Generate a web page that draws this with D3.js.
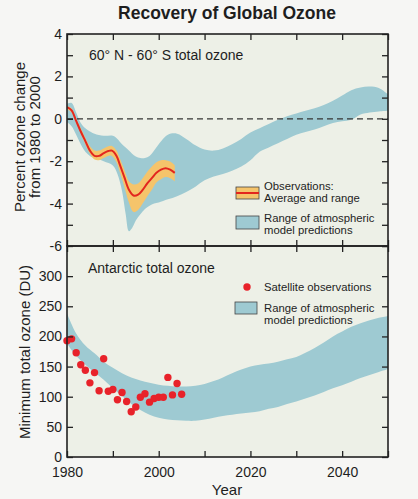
<!DOCTYPE html>
<html>
<head>
<meta charset="utf-8">
<script src="https://cdn.jsdelivr.net/npm/d3@7"></script>
<style>
  html, body { margin: 0; padding: 0; background: #f6f6f4; }
  svg { display: block; font-family: "Liberation Sans", Arial, Helvetica, sans-serif; }
</style>
</head>
<body>
<svg id="chart" width="418" height="499"></svg>
<script>
// ---------- DATA ----------
const title = "Recovery of Global Ozone";

// Top panel: 60N-60S total ozone, percent change from 1980
const topModelYears = [1980, 1981, 1982, 1983, 1984, 1985, 1986, 1988, 1990, 1991, 1992, 1992.8, 1993.5, 1994.2, 1995, 1996, 1997, 1998, 1999, 2000, 2002, 2004, 2006, 2008, 2010, 2012, 2014, 2016, 2018, 2020, 2022, 2024, 2026, 2028, 2030, 2032, 2034, 2036, 2038, 2040, 2042, 2044, 2046, 2048, 2050];
const topModelHigh  = [0.7, 0.75, 0.3, -0.2, -0.45, -0.6, -0.7, -0.8, -0.8, -0.95, -1.2, -1.35, -1.5, -1.65, -1.78, -1.85, -1.85, -1.75, -1.5, -1.2, -0.75, -0.7, -0.95, -1.25, -1.45, -1.5, -1.4, -1.2, -0.95, -0.65, -0.45, -0.25, -0.05, 0.12, 0.25, 0.38, 0.5, 0.65, 0.85, 1.1, 1.35, 1.48, 1.52, 1.45, 1.15];
const topModelLow   = [-0.15, -0.35, -0.75, -1.2, -1.55, -1.75, -1.85, -2.0, -2.2, -2.6, -3.4, -4.5, -5.3, -5.15, -4.8, -4.5, -4.25, -4.1, -4.0, -3.95, -3.8, -3.65, -3.45, -3.2, -2.9, -2.72, -2.6, -2.45, -2.25, -1.95, -1.55, -1.35, -1.15, -0.95, -0.75, -0.62, -0.5, -0.35, -0.2, -0.12, -0.05, 0.2, 0.3, 0.35, 0.38];

const obsYears = [1980, 1981, 1982, 1983, 1984, 1985, 1986, 1987, 1988, 1989, 1989.8, 1990.8, 1991.5, 1992.5, 1993.5, 1994.5, 1995.5, 1996.5, 1997.5, 1998.5, 1999.5, 2000.5, 2001.5, 2002.5, 2003.5];
const obsMean  = [0.55, 0.4, -0.1, -0.6, -1.05, -1.5, -1.75, -1.75, -1.62, -1.52, -1.5, -1.75, -2.15, -2.75, -3.35, -3.62, -3.58, -3.35, -3.05, -2.8, -2.55, -2.4, -2.33, -2.4, -2.55];
const obsHigh  = [0.6, 0.48, 0.0, -0.45, -0.9, -1.3, -1.5, -1.5, -1.4, -1.3, -1.28, -1.5, -1.85, -2.4, -2.95, -3.1, -3.05, -2.8, -2.5, -2.25, -2.05, -1.95, -1.95, -2.02, -2.2];
const obsLow   = [0.45, 0.3, -0.2, -0.7, -1.2, -1.65, -1.92, -1.95, -1.85, -1.75, -1.75, -2.05, -2.5, -3.2, -3.95, -4.4, -4.3, -4.0, -3.65, -3.35, -3.0, -2.85, -2.75, -2.8, -2.95];

// Bottom panel: Antarctic minimum total ozone (DU)
const botModelYears = [1980, 1982, 1984, 1986, 1988, 1990, 1992, 1994, 1996, 1998, 2000, 2002, 2004, 2006, 2008, 2010, 2012, 2014, 2016, 2018, 2020, 2022, 2024, 2026, 2028, 2030, 2032, 2034, 2036, 2038, 2040, 2042, 2044, 2046, 2048, 2050];
const botModelHigh  = [238, 205, 185, 172, 158, 148, 139, 132, 127, 123, 120, 118, 117, 117, 118, 121, 126, 132, 139, 145, 150, 153, 155, 158, 162, 166, 173, 181, 190, 200, 208, 216, 222, 227, 231, 234];
const botModelLow   = [188, 168, 153, 140, 128, 114, 101, 88, 78, 70, 65, 62, 61, 60, 60, 62, 65, 68, 70, 72, 74, 76, 80, 83, 88, 92, 97, 102, 108, 114, 119, 125, 131, 136, 141, 146];

const satYears  = [1980, 1981, 1982, 1983, 1984, 1985, 1986, 1987, 1988, 1989, 1990, 1991, 1992, 1993, 1994, 1995, 1996, 1997, 1998, 1999, 2000, 2001, 2002, 2003, 2004, 2005];
const satValues = [193, 196, 173, 153, 144, 123, 140, 110, 163, 109, 112, 95, 107, 92, 75, 83, 99, 105, 91, 97, 99, 99, 132, 103, 122, 104];

const topTicks = [-6, -5, -4, -3, -2, -1, 0, 1, 2, 3, 4];
const botTicks = [0, 50, 100, 150, 200, 250, 300];
const yearTicks = [1980, 1990, 2000, 2010, 2020, 2030, 2040, 2050];
const yearLabels = [1980, 2000, 2020, 2040];

// ---------- STYLE ----------
const C = {
  plotBg: "#edf0e7",
  band: "#9ecad2",
  obsBand: "#f5c46b",
  obsLine: "#e3261e",
  dot: "#e8222a",
  axis: "#222222",
  text: "#1e1e1e"
};
const LEG_FS = 11.3;

const svg = d3.select("#chart");
const L = 67, R = 388, T = 34, MID = 246, B = 457;

const x = d3.scaleLinear().domain([1980, 2050]).range([L, R]);
const yTop = d3.scaleLinear().domain([-6, 4]).range([MID, T]);
const yBot = d3.scaleLinear().domain([0, 350]).range([B, MID]);

// Title
svg.append("text").attr("x", 227).attr("y", 19).attr("text-anchor", "middle")
  .attr("font-weight", "bold").attr("font-size", 17.5).attr("fill", C.text).text(title);

// backgrounds
svg.append("rect").attr("x", L).attr("y", T).attr("width", R - L).attr("height", B - T).attr("fill", C.plotBg);

const defs = svg.append("defs");
defs.append("clipPath").attr("id", "clipTop").append("rect").attr("x", L).attr("y", T).attr("width", R - L).attr("height", MID - T);
defs.append("clipPath").attr("id", "clipBot").append("rect").attr("x", L).attr("y", MID).attr("width", R - L).attr("height", B - MID);

// ---------- TOP PANEL ----------
const gTop = svg.append("g").attr("clip-path", "url(#clipTop)");
const topModel = topModelYears.map((yr, i) => ({ yr, hi: topModelHigh[i], lo: topModelLow[i] }));
gTop.append("path").datum(topModel).attr("fill", C.band)
  .attr("d", d3.area().curve(d3.curveCatmullRom.alpha(0.5)).x(d => x(d.yr)).y0(d => yTop(d.lo)).y1(d => yTop(d.hi)));

gTop.append("line").attr("x1", L).attr("x2", R).attr("y1", yTop(0)).attr("y2", yTop(0))
  .attr("stroke", "#333").attr("stroke-width", 1.2).attr("stroke-dasharray", "6,4");

const obs = obsYears.map((yr, i) => ({ yr, m: obsMean[i], hi: obsHigh[i], lo: obsLow[i] }));
gTop.append("path").datum(obs).attr("fill", C.obsBand)
  .attr("d", d3.area().curve(d3.curveCatmullRom.alpha(0.5)).x(d => x(d.yr)).y0(d => yTop(d.lo)).y1(d => yTop(d.hi)));
gTop.append("path").datum(obs).attr("fill", "none").attr("stroke", C.obsLine).attr("stroke-width", 2)
  .attr("d", d3.line().curve(d3.curveCatmullRom.alpha(0.5)).x(d => x(d.yr)).y(d => yTop(d.m)));

// ---------- BOTTOM PANEL ----------
const gBot = svg.append("g").attr("clip-path", "url(#clipBot)");
const botModel = botModelYears.map((yr, i) => ({ yr, hi: botModelHigh[i], lo: botModelLow[i] }));
gBot.append("path").datum(botModel).attr("fill", C.band)
  .attr("d", d3.area().curve(d3.curveCatmullRom.alpha(0.5)).x(d => x(d.yr)).y0(d => yBot(d.lo)).y1(d => yBot(d.hi)));

const sat = satYears.map((yr, i) => ({ yr, v: satValues[i] }));
svg.append("g").selectAll("circle").data(sat).join("circle")
  .attr("cx", d => x(d.yr)).attr("cy", d => yBot(d.v)).attr("r", 3.7).attr("fill", C.dot);

// ---------- AXES ----------
function styleAxis(g) {
  g.select(".domain").remove();
  g.selectAll(".tick line").attr("stroke", C.axis).attr("stroke-width", 1.3);
  g.selectAll(".tick text").attr("fill", C.text).attr("font-size", 14)
    .attr("font-family", "'Liberation Sans', Arial, Helvetica, sans-serif");
}
// top panel
svg.append("g").attr("transform", `translate(${L},0)`)
  .call(d3.axisLeft(yTop).tickValues(topTicks).tickSize(-6).tickPadding(5).tickFormat(d => d % 2 === 0 ? d : ""))
  .call(styleAxis);
svg.append("g").attr("transform", `translate(${R},0)`)
  .call(d3.axisRight(yTop).tickValues(topTicks).tickSize(-6).tickFormat(""))
  .call(styleAxis);
svg.append("g").attr("transform", `translate(0,${T})`)
  .call(d3.axisTop(x).tickValues(yearTicks).tickSize(-6).tickFormat(""))
  .call(styleAxis);
svg.append("g").attr("transform", `translate(0,${MID})`)
  .call(d3.axisBottom(x).tickValues(yearTicks).tickSize(-6).tickFormat(""))
  .call(styleAxis);
// bottom panel
svg.append("g").attr("transform", `translate(${L},0)`)
  .call(d3.axisLeft(yBot).tickValues(botTicks).tickSize(-6).tickPadding(5))
  .call(styleAxis);
svg.append("g").attr("transform", `translate(${R},0)`)
  .call(d3.axisRight(yBot).tickValues(botTicks.concat([350])).tickSize(-6).tickFormat(""))
  .call(styleAxis);
svg.append("g").attr("transform", `translate(0,${MID})`)
  .call(d3.axisTop(x).tickValues(yearTicks).tickSize(-6).tickFormat(""))
  .call(styleAxis);
svg.append("g").attr("transform", `translate(0,${B})`)
  .call(d3.axisBottom(x).tickValues(yearTicks).tickSize(-6).tickPadding(10).tickFormat(d => yearLabels.includes(d) ? d : ""))
  .call(styleAxis);

// frames
[[T, MID], [MID, B]].forEach(([a, b]) => {
  svg.append("rect").attr("x", L).attr("y", a).attr("width", R - L).attr("height", b - a)
    .attr("fill", "none").attr("stroke", C.axis).attr("stroke-width", 1.6);
});

// ---------- LABELS ----------
const txt = (xx, yy, s, size, anchor) => svg.append("text").attr("x", xx).attr("y", yy)
  .attr("font-size", size).attr("fill", C.text).attr("text-anchor", anchor || "start").text(s);

txt(89, 60, "60° N - 60° S total ozone", 14);
txt(88, 273, "Antarctic total ozone", 14);

// top y label
const yl1 = svg.append("text").attr("transform", "translate(25,137) rotate(-90)")
  .attr("text-anchor", "middle").attr("font-size", 15).attr("fill", C.text);
yl1.append("tspan").attr("x", 0).attr("dy", 0).text("Percent ozone change");
yl1.append("tspan").attr("x", 0).attr("dy", 15).text("from 1980 to 2000");

svg.append("text").attr("transform", "translate(30,352) rotate(-90)")
  .attr("text-anchor", "middle").attr("font-size", 15).attr("fill", C.text).text("Minimum total ozone (DU)");

txt(227, 495, "Year", 15, "middle");

// top legend
svg.append("rect").attr("x", 236).attr("y", 187).attr("width", 23).attr("height", 12)
  .attr("fill", C.obsBand).attr("stroke", "#444").attr("stroke-width", 0.8);
svg.append("line").attr("x1", 236).attr("x2", 259).attr("y1", 193).attr("y2", 193)
  .attr("stroke", C.obsLine).attr("stroke-width", 2);
txt(264, 190, "Observations:", LEG_FS);
txt(264, 201.5, "Average and range", LEG_FS);
svg.append("rect").attr("x", 236).attr("y", 216).attr("width", 23).attr("height", 13)
  .attr("fill", C.band).attr("stroke", "#444").attr("stroke-width", 0.8);
txt(264, 222, "Range of atmospheric", LEG_FS);
txt(264, 233.5, "model predictions", LEG_FS);

// bottom legend
svg.append("circle").attr("cx", 247).attr("cy", 287).attr("r", 3.7).attr("fill", C.dot);
txt(264, 291, "Satellite observations", LEG_FS);
svg.append("rect").attr("x", 235).attr("y", 302).attr("width", 22).attr("height", 12)
  .attr("fill", C.band).attr("stroke", "#444").attr("stroke-width", 0.8);
txt(264, 312, "Range of atmospheric", LEG_FS);
txt(264, 323.5, "model predictions", LEG_FS);
</script>
</body>
</html>
